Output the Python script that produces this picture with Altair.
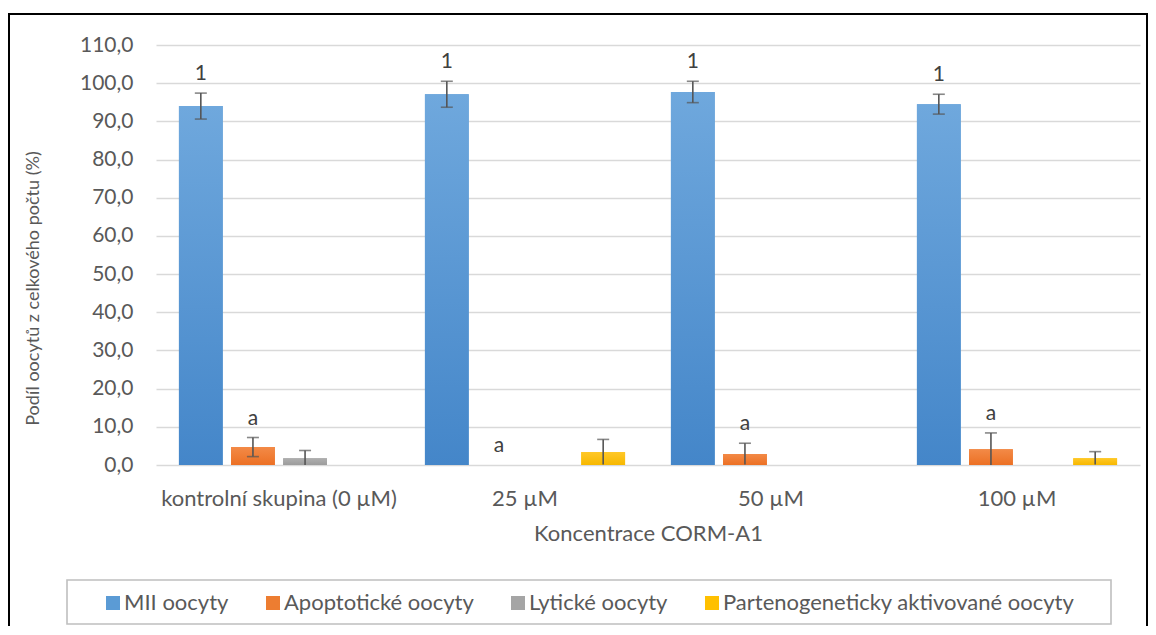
import altair as alt
import pandas as pd

categories = ["kontrolní skupina (0 µM)", "25 µM", "50 µM", "100 µM"]
series_names = ["MII oocyty", "Apoptotické oocyty", "Lytické oocyty",
                "Partenogeneticky aktivované oocyty"]

mii = [94.0, 97.1, 97.7, 94.5]
mii_err = [3.4, 3.4, 2.8, 2.6]
apo = [4.7, 0.0, 2.9, 4.1]
apo_err = [2.5, 0.0, 2.8, 4.3]
lyt = [1.8, 0.0, 0.0, 0.0]
lyt_err = [2.0, 0.0, 0.0, 0.0]
par = [0.0, 3.4, 0.0, 1.8]
par_err = [0.0, 3.3, 0.0, 1.7]

mii_letters = ["1", "1", "1", "1"]
apo_letters = ["a", "a", "a", "a"]

flat_colors = ["#5B9BD5", "#ED7D31", "#A5A5A5", "#FFC000"]
grad_top = ["#6FA8DD", "#F38A47", "#AFAFAF", "#FFC828"]
grad_bot = ["#4486C9", "#EC7024", "#9C9C9C", "#F7B800"]

values = [mii, apo, lyt, par]
errors = [mii_err, apo_err, lyt_err, par_err]

rows = []
for s, vals, errs in zip(series_names, values, errors):
    for c, v, e in zip(categories, vals, errs):
        rows.append({"cat": c, "ser": s, "val": v, "err": e,
                     "lower": max(v - e, 0.0), "upper": v + e})
df = pd.DataFrame(rows)

lab_rows = []
for c, v, e, t in zip(categories, mii, mii_err, mii_letters):
    lab_rows.append({"cat": c, "ser": series_names[0], "upper": v + e, "txt": t})
for c, v, e, t in zip(categories, apo, apo_err, apo_letters):
    lab_rows.append({"cat": c, "ser": series_names[1], "upper": v + e, "txt": t})
lab_df = pd.DataFrame(lab_rows)

FONT = "Lato"
TXT = "#595959"

x_scale = alt.Scale(domain=categories, paddingInner=0, paddingOuter=0)
xo_scale = alt.Scale(domain=series_names, paddingInner=0.16, paddingOuter=0.44)
y_scale = alt.Scale(domain=[0, 110], nice=False, zero=True)

x_axis = alt.Axis(title="Koncentrace CORM-A1", labelAngle=0, domain=False, ticks=False,
                  tickSize=0, labelPadding=33, labelBaseline="middle", labelFont=FONT,
                  labelFontSize=22, labelColor=TXT, labelLimit=0, titleFont=FONT,
                  titleFontSize=22, titleFontWeight="normal", titleColor=TXT,
                  titleX=492, titleY=68, titleBaseline="middle", titleAlign="center",
                  grid=False)
y_axis = alt.Axis(title="Podíl oocytů z celkového počtu (%)", values=list(range(0, 111, 10)),
                  labelExpr="replace(format(datum.value, '.1f'), '.', ',')",
                  domain=False, ticks=False, tickSize=0, labelPadding=23, labelFont=FONT,
                  labelFontSize=21, labelColor=TXT, grid=True, gridColor="#D9D9D9",
                  gridWidth=1.4, titleFont=FONT, titleFontSize=18, titleFontWeight="normal",
                  titleColor=TXT, titleX=-123, titleY=243, titleAngle=270,
                  titleAlign="center", titleBaseline="middle", titleLimit=0)

X = alt.X("cat:N", scale=x_scale, axis=x_axis)
XO = alt.XOffset("ser:N", scale=xo_scale)

base_bars = alt.Chart(df).mark_bar().encode(
    x=X, xOffset=XO,
    y=alt.Y("val:Q", scale=y_scale, axis=y_axis),
    color=alt.Color("ser:N", scale=alt.Scale(domain=series_names, range=flat_colors),
                    legend=alt.Legend(orient="none", direction="horizontal", legendX=-54,
                                      legendY=547, title=None, symbolType="square",
                                      symbolSize=196, symbolStrokeWidth=0,
                                      labelFont=FONT, labelFontSize=22, labelColor=TXT,
                                      labelLimit=0, columnPadding=33, labelOffset=0,
                                      padding=0)),
)

grad_layers = []
for s, t, b in zip(series_names, grad_top, grad_bot):
    g = alt.LinearGradient(gradient="linear",
                           stops=[alt.GradientStop(color=t, offset=0),
                                  alt.GradientStop(color=b, offset=1)],
                           x1=0, x2=0, y1=0, y2=1)
    grad_layers.append(
        alt.Chart(df).transform_filter(alt.datum.ser == s).mark_bar(color=g).encode(
            x=X, xOffset=XO, y=alt.Y("val:Q", scale=y_scale, axis=y_axis)))

err_df = df[df["err"] > 0]
ERR = "#555555"
err_rule = alt.Chart(err_df).mark_rule(color=ERR, strokeWidth=1.6).encode(
    x=X, xOffset=XO,
    y=alt.Y("lower:Q", scale=y_scale, axis=y_axis), y2="upper:Q")
cap_top = alt.Chart(err_df).mark_tick(color=ERR, size=12, thickness=1.6).encode(
    x=X, xOffset=XO, y=alt.Y("upper:Q", scale=y_scale, axis=y_axis))
cap_bot = alt.Chart(err_df).transform_filter(alt.datum.lower > 0.5).mark_tick(
    color=ERR, size=12, thickness=1.6).encode(
    x=X, xOffset=XO, y=alt.Y("lower:Q", scale=y_scale, axis=y_axis))

labels = alt.Chart(lab_df).mark_text(font=FONT, fontSize=21, color="#404040",
                                     baseline="alphabetic", dy=-13).encode(
    x=X, xOffset=XO, y=alt.Y("upper:Q", scale=y_scale, axis=y_axis), text="txt:N")

one = pd.DataFrame({"k": [0]})
frame = alt.Chart(one).mark_rect(filled=False, stroke="#000000", strokeWidth=2).encode(
    x=alt.value(-147), x2=alt.value(991), y=alt.value(-31), y2=alt.value(700))
legend_box = alt.Chart(one).mark_rect(filled=False, stroke="#BFBFBF", strokeWidth=1.6).encode(
    x=alt.value(-89), x2=alt.value(955), y=alt.value(535), y2=alt.value(579))

chart = alt.layer(frame, legend_box, base_bars, *grad_layers, err_rule, cap_top, cap_bot,
                  labels).properties(
    width=984, height=420,
    autosize=alt.AutoSizeParams(type="none"),
    padding={"left": 148, "top": 37, "right": 8, "bottom": 161},
).configure_view(stroke=None)

chart.save("out.html", embed_options={"renderer": "svg", "actions": False})
